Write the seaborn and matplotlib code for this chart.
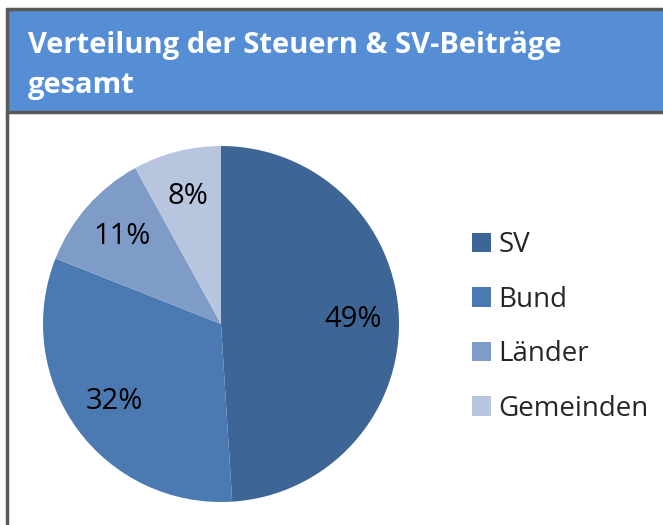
import matplotlib.pyplot as plt
import matplotlib.patches as mpatches
import seaborn as sns

# data
labels = ["SV", "Bund", "Länder", "Gemeinden"]
values = [49, 32, 11, 8]
colors = ["#3D6696", "#4A7AB1", "#7F9CC8", "#B7C5DF"]
title = "Verteilung der Steuern & SV-Beiträge\ngesamt"

sns.set_theme(style="white")
plt.rcParams['font.family'] = ['Open Sans', 'DejaVu Sans']

W, H = 663, 525
fig = plt.figure(figsize=(W / 100, H / 100), dpi=100)
fig.patch.set_facecolor("white")

# header band and frame
border = "#595959"
fig.patches.append(mpatches.Rectangle((7 / W, 1 - 112 / H), 1, 103 / H, transform=fig.transFigure,
                                      facecolor="#558ED5", edgecolor="none"))
fig.add_artist(plt.Line2D([7 / W, 1], [1 - 9 / H, 1 - 9 / H], color=border, lw=2.5, transform=fig.transFigure))
fig.add_artist(plt.Line2D([7 / W, 1], [1 - 112 / H, 1 - 112 / H], color=border, lw=2.5, transform=fig.transFigure))
fig.add_artist(plt.Line2D([7 / W, 7 / W], [0, 1 - 9 / H], color=border, lw=2.5, transform=fig.transFigure))

fig.text(28 / W, 1 - 66 / H, title, color="white", fontsize=21, fontweight="bold",
         va="center", ha="left", linespacing=1.5)

# pie
cx, cy, r = 221, 324, 178
ax = fig.add_axes([(cx - r) / W, 1 - (cy + r) / H, 2 * r / W, 2 * r / H])
wedges, texts, autotexts = ax.pie(values, colors=colors, startangle=90, counterclock=False,
                                  autopct='%1.0f%%', pctdistance=0.74,
                                  wedgeprops=dict(edgecolor="none"),
                                  textprops=dict(fontsize=21, color="black"))
ax.set_xlim(-1, 1)
ax.set_ylim(-1, 1)
ax.set_aspect("equal")

handles = [mpatches.Patch(facecolor=c, edgecolor="none") for c in colors]
fig.legend(handles, labels, loc="center left", bbox_to_anchor=(447 / W, 1 - 327 / H),
           frameon=False, fontsize=20, handlelength=0.7, handleheight=0.7,
           handletextpad=0.25, labelspacing=0.95)

plt.savefig("out.png", dpi=100)
